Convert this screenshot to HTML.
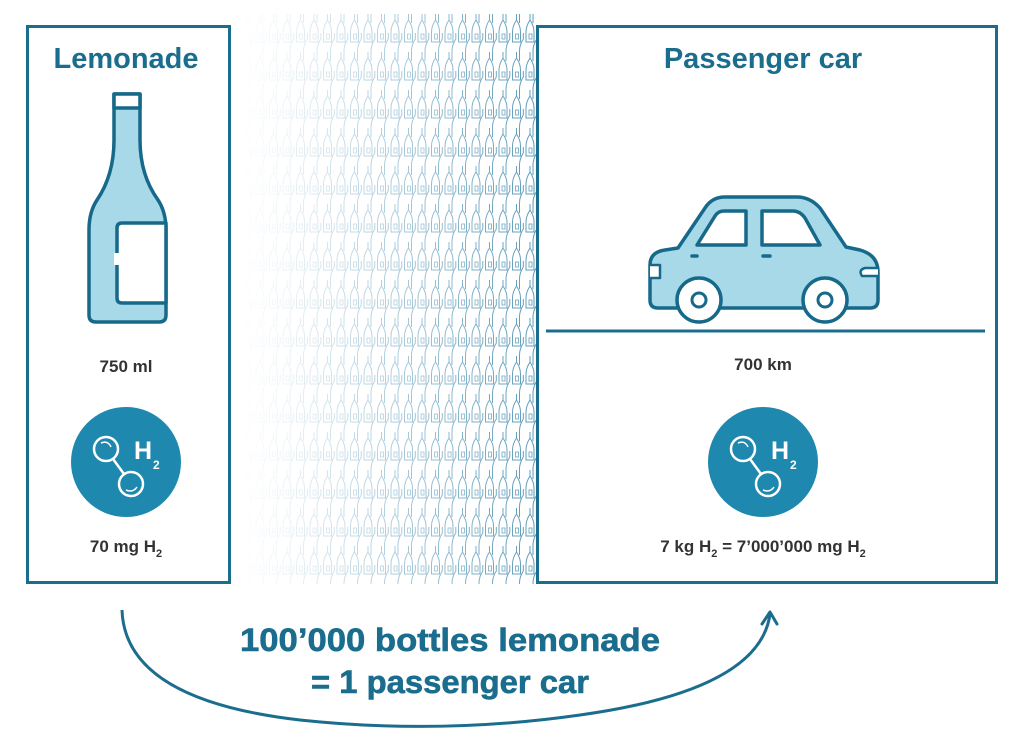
<!DOCTYPE html>
<html><head><meta charset="utf-8"><style>
html,body{margin:0;padding:0;background:#fff;}
svg{display:block;}
text{font-family:"Liberation Sans",sans-serif;font-weight:bold;}
</style></head><body>
<svg width="1024" height="755" viewBox="0 0 1024 755" xmlns="http://www.w3.org/2000/svg">
<defs>
<pattern id="bp" x="255" y="14" width="13.5" height="38" patternUnits="userSpaceOnUse">
<path d="M5 0 V6 Q1 12 1 18 V28 H9 V18 Q9 12 5 6" fill="none" stroke="#4f93b3" stroke-width="1"/>
<path d="M11.8 19 V25 Q8 31 8 37 V47" fill="none" stroke="#4f93b3" stroke-width="1"/>
<path d="M11.8 -19 V-13 Q8 -7 8 -1 V9" fill="none" stroke="#4f93b3" stroke-width="1"/>
<rect x="4" y="20" width="3" height="5" fill="none" stroke="#4f93b3" stroke-width="0.8"/>
</pattern>
<linearGradient id="fg" x1="0" x2="1" y1="0" y2="0">
<stop offset="0" stop-color="#fff" stop-opacity="0"/>
<stop offset="0.15" stop-color="#fff" stop-opacity="0.1"/>
<stop offset="1" stop-color="#fff" stop-opacity="0.95"/>
</linearGradient>
<mask id="fm"><rect x="240" y="14" width="300" height="570" fill="url(#fg)"/></mask>
</defs>
<rect x="240" y="14" width="296" height="570" fill="url(#bp)" mask="url(#fm)"/>

<rect x="27.5" y="26.5" width="202" height="556" fill="#fff" stroke="#1b6d8e" stroke-width="3"/>
<rect x="537.5" y="26.5" width="459" height="556" fill="#fff" stroke="#1b6d8e" stroke-width="3"/>

<text x="126" y="68" text-anchor="middle" font-size="29" fill="#1b6d8e">Lemonade</text>
<text x="763" y="68" text-anchor="middle" font-size="29" fill="#1b6d8e">Passenger car</text>

<!-- bottle -->
<g stroke="#17698a" stroke-width="3.5" stroke-linejoin="round">
<path d="M114 94 H140 V140 Q140 175 158 200 Q166 212 166 230 V315 Q166 322 159 322 H96 Q89 322 89 315 V230 Q89 212 97 200 Q114 175 114 140 Z" fill="#a8d9e9"/>
<rect x="114" y="94" width="26" height="14" fill="#fff"/>
<path d="M166 223 H122 Q117 223 117 228 V298 Q117 303 122 303 H166 Z" fill="#fff"/>
</g>
<rect x="114" y="253" width="7" height="12" fill="#fff"/>
<text x="126" y="372" text-anchor="middle" font-size="17" fill="#333">750 ml</text>

<!-- circles -->
<g id="h2">
<circle cx="126" cy="462" r="55" fill="#1e88af"/>
<g fill="none" stroke="#fff" stroke-width="2.5">
<circle cx="106" cy="449" r="12"/><circle cx="131" cy="484" r="12"/>
<line x1="113" y1="459" x2="124" y2="474"/>
<path d="M101 443 Q108 440 111 447" stroke-width="1.5"/>
<path d="M126 490 Q133 493 137 487" stroke-width="1.5"/>
</g>
<text x="134" y="459" font-size="25" fill="#fff">H</text>
<text x="153" y="469" font-size="12" fill="#fff">2</text>
</g>
<use href="#h2" x="637" y="0"/>

<text x="126" y="552" text-anchor="middle" font-size="17" fill="#333">70 mg H<tspan font-size="11" dy="5">2</tspan></text>

<!-- car -->
<g stroke="#17698a" stroke-width="3.5" stroke-linejoin="round" stroke-linecap="round">
<path d="M650 300 V265 Q650 252 665 250 L678 248 L705 208 Q712 197 725 197 H797 Q810 197 820 208 L846 247 L860 250 Q878 255 878 272 V300 Q878 308 870 308 H658 Q650 308 650 300 Z" fill="#a8d9e9"/>
<path d="M697 245 L715 216 Q718 211 724 211 H746 V245 Z" fill="#fff"/>
<path d="M762 211 H793 Q800 211 805 218 L820 245 H762 Z" fill="#fff"/>
<line x1="692" y1="256" x2="697" y2="256"/><line x1="763" y1="256" x2="770" y2="256"/>
<path d="M650 265 H660 V278 H650" fill="#fff" stroke-width="2.5"/>
<path d="M878 268 H865 Q858 270 862 276 H878" fill="#fff" stroke-width="2.5"/>
<circle cx="699" cy="300" r="22" fill="#fff"/><circle cx="699" cy="300" r="7" fill="#fff" stroke-width="3"/>
<circle cx="825" cy="300" r="22" fill="#fff"/><circle cx="825" cy="300" r="7" fill="#fff" stroke-width="3"/>
</g>
<line x1="546" y1="331" x2="985" y2="331" stroke="#1b6d8e" stroke-width="3"/>
<text x="763" y="370" text-anchor="middle" font-size="17" fill="#333">700 km</text>
<text x="763" y="552" text-anchor="middle" font-size="17" fill="#333">7 kg H<tspan font-size="11" dy="5">2</tspan><tspan dy="-5"> = 7’000’000 mg H</tspan><tspan font-size="11" dy="5">2</tspan></text>

<!-- arc -->
<path d="M122 610 Q125 700 300 720 Q440 735 580 715 Q760 690 770 614" fill="none" stroke="#1b6d8e" stroke-width="3"/>
<path d="M762 624 L770 612 L777 624" fill="none" stroke="#1b6d8e" stroke-width="3" stroke-linecap="round" stroke-linejoin="round"/>
<text x="450" y="651" text-anchor="middle" font-size="32" fill="#1b6d8e" textLength="420" lengthAdjust="spacingAndGlyphs" stroke="#1b6d8e" stroke-width="0.6">100’000 bottles lemonade</text>
<text x="450" y="693" text-anchor="middle" font-size="32" fill="#1b6d8e" textLength="278" lengthAdjust="spacingAndGlyphs" stroke="#1b6d8e" stroke-width="0.6">= 1 passenger car</text>
</svg>
</body></html>
